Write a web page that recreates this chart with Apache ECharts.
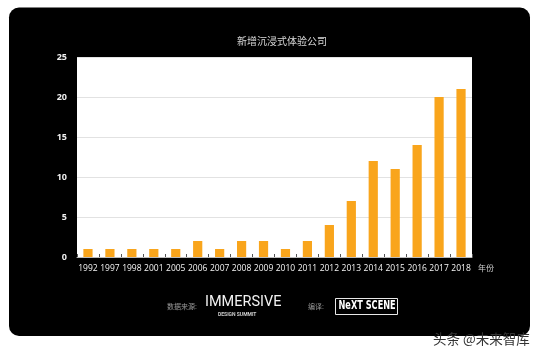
<!DOCTYPE html>
<html>
<head>
<meta charset="utf-8">
<script src="https://cdn.jsdelivr.net/npm/echarts@6/dist/echarts.min.js"></script>
<style>
html,body{margin:0;padding:0;background:#fff;}
#chart{width:543px;height:356px;}
</style>
</head>
<body>
<div id="chart"></div>
<script>
var categories = ['1992','1997','1998','2001','2005','2006','2007','2008','2009','2010','2011','2012','2013','2014','2015','2016','2017','2018'];
var values = [1,1,1,1,1,2,1,2,2,1,2,4,7,12,11,14,20,21];
var yTicks = [0,5,10,15,20,25];
var titleText = '新增沉浸式体验公司';
var xName = '年份';

var chart = echarts.init(document.getElementById('chart'), null, {renderer:'canvas'});
var option = {
  backgroundColor: '#fff',
  animation: false,
  title: {
    text: titleText,
    left: 277, top: 31, textAlign: 'center',
    textStyle: {color: '#d8d8d8', fontSize: 10, fontWeight: 'normal', fontFamily: 'Noto Sans CJK SC'}
  },
  graphic: [
    {type:'rect', z:-10, shape:{x:9, y:7.5, width:521, height:328.5, r:10}, style:{fill:'#000'}},
    {type:'text', left:478, top:264, style:{text:xName, fill:'#cfcfcf', fontSize:8, fontFamily:'Noto Sans CJK SC'}},
    {type:'text', left:167, top:303, style:{text:'数据来源:', fill:'#9a9a9a', fontSize:7, fontFamily:'Noto Sans CJK SC'}},
    {type:'text', left:205, top:295, style:{text:'IMMERSIVE', fill:'#f2f2f2', fontSize:14.5, fontFamily:'Roboto', fontWeight:'normal'}},
    {type:'text', left:218, top:312, style:{text:'DESIGN SUMMIT', fill:'#cfcfcf', fontSize:5, fontFamily:'Roboto', fontWeight:'bold'}},
    {type:'text', left:308, top:303, style:{text:'编译:', fill:'#9a9a9a', fontSize:7, fontFamily:'Noto Sans CJK SC'}},
    {type:'rect', shape:{x:335.5, y:298.5, width:62, height:16}, style:{fill:'none', stroke:'#e8e8e8', lineWidth:1}},
    {type:'text', x:338.5, y:300, scaleX:0.76, originX:0, originY:0,
      style:{text:'NeXT SCENE', fill:'#ffffff', fontSize:12, fontFamily:'DejaVu Sans Condensed', fontWeight:'bold', textVerticalAlign:'top'}},
    {type:'text', left:433, top:332, style:{text:'头条 @未来智库', fill:'#333', fontSize:13.5, fontFamily:'Noto Sans CJK SC'}}
  ],
  grid: {left:77, right:71, top:57, bottom:99, show:true, backgroundColor:'#fff', borderWidth:0},
  xAxis: {
    type:'category', data: categories,
    axisLine:{show:true, lineStyle:{color:'#bbbbbb', width:1}},
    axisTick:{show:true, inside:true, length:3, lineStyle:{color:'#555'}},
    axisLabel:{interval:0, color:'#f4f4f4', fontSize:8.5, fontFamily:'Open Sans', margin:7}
  },
  yAxis: {
    type:'value', min:0, max:25, interval:5,
    axisLine:{show:false}, axisTick:{show:false},
    splitLine:{lineStyle:{color:'#e2e2e2', width:1}},
    axisLabel:{color:'#f0f0f0', fontSize:9, fontFamily:'Open Sans', fontWeight:'bold', margin:10,
      formatter:function(v){return yTicks.indexOf(v)>=0 ? String(v) : '';}}
  },
  series: [{
    type:'bar', data: values, barWidth:'42%',
    itemStyle:{color:'#F9A51C'}
  }]
};
chart.setOption(option);
</script>
</body>
</html>
